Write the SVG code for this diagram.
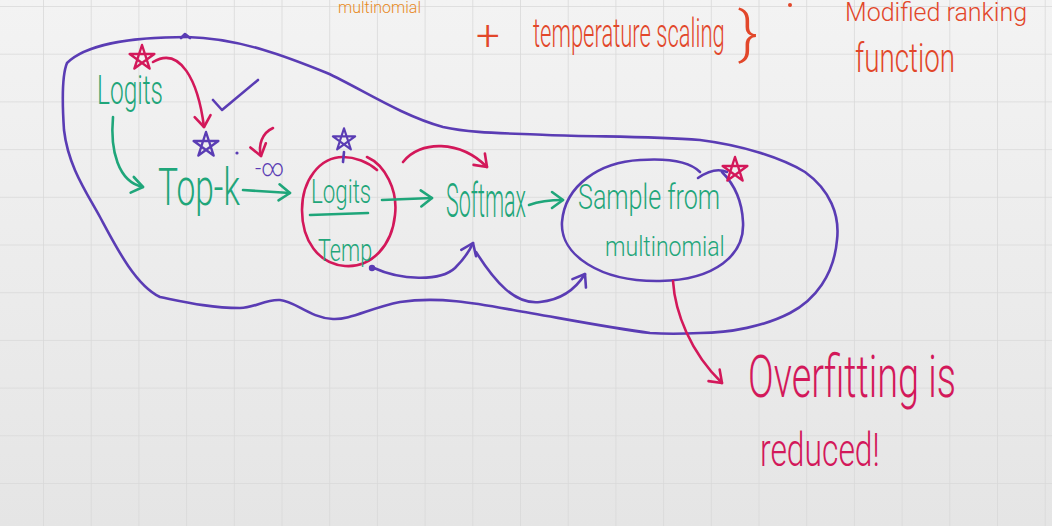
<svg xmlns="http://www.w3.org/2000/svg" width="1052" height="526" viewBox="0 0 1052 526">
<style>
  .g{fill:#1fa67a}
  .p{fill:#5a3cb4}
  .r{fill:#d3185a}
  .o{fill:#e2472a}
  .t{font-family:Roboto,"Liberation Sans","DejaVu Sans",sans-serif;font-weight:300}
  .sg{fill:none;stroke:#1fa67a;stroke-width:2.6;stroke-linecap:round;stroke-linejoin:round}
  .sp{fill:none;stroke:#5a3cb4;stroke-width:2.6;stroke-linecap:round;stroke-linejoin:round}
  .sr{fill:none;stroke:#d3185a;stroke-width:2.6;stroke-linecap:round;stroke-linejoin:round}
</style>
<defs>
  <linearGradient id="bg" x1="0" y1="0" x2="0" y2="1">
    <stop offset="0" stop-color="#f3f3f3"/>
    <stop offset="1" stop-color="#e5e5e5"/>
  </linearGradient>
  <pattern id="grid" patternUnits="userSpaceOnUse" x="43" y="6" width="47.7" height="47.7">
    <path d="M0,0 V47.7 M0,0 H47.7" fill="none" stroke="#d9d9d9" stroke-width="1.6"/>
  </pattern>
  <path id="star" d="M0,-13 L7.64,10.52 L-12.36,-4.02 L12.36,-4.02 L-7.64,10.52 Z" fill="none" stroke="currentColor" stroke-width="2.4" stroke-linejoin="round"/>
  <marker id="ag" markerUnits="userSpaceOnUse" markerWidth="24" markerHeight="24" viewBox="-12 -12 24 24" refX="0" refY="0" orient="auto" overflow="visible">
    <path d="M-11,-8 L0,0 L-11,8" fill="none" stroke="#1fa67a" stroke-width="2.6" stroke-linecap="round" stroke-linejoin="round"/>
  </marker>
  <marker id="ap" markerUnits="userSpaceOnUse" markerWidth="24" markerHeight="24" viewBox="-12 -12 24 24" refX="0" refY="0" orient="auto" overflow="visible">
    <path d="M-11,-8 L0,0 L-11,8" fill="none" stroke="#5a3cb4" stroke-width="2.6" stroke-linecap="round" stroke-linejoin="round"/>
  </marker>
  <marker id="ar" markerUnits="userSpaceOnUse" markerWidth="24" markerHeight="24" viewBox="-12 -12 24 24" refX="0" refY="0" orient="auto" overflow="visible">
    <path d="M-11,-8 L0,0 L-11,8" fill="none" stroke="#d3185a" stroke-width="2.6" stroke-linecap="round" stroke-linejoin="round"/>
  </marker>
</defs>

<rect width="1052" height="526" fill="url(#bg)"/>
<rect width="1052" height="526" fill="url(#grid)"/>

<!-- top notes -->
<g id="top-notes">
  <text class="t" x="338" y="13" font-size="16" fill="#e88a1e">multinomial</text>
  <text class="t o" x="476" y="50" font-size="42">+</text>
  <text class="t o" transform="translate(533 47) scale(0.54 1)" font-size="40" textLength="355" lengthAdjust="spacingAndGlyphs">temperature scaling</text>
  <text class="t o" x="738" y="52" font-size="58" textLength="20" lengthAdjust="spacingAndGlyphs">}</text>
  <circle cx="790" cy="5" r="2" fill="#e2472a"/>
  <text class="t o" x="845" y="21" font-size="25">Modified ranking</text>
  <text class="t o" transform="translate(855 72) scale(0.68 1)" font-size="40" textLength="147" lengthAdjust="spacingAndGlyphs">function</text>
</g>

<!-- outer purple blob -->
<g id="pipeline-boundary">
  <path class="sp" d="M67,63 C85,45 130,37 187,37 C240,38 290,58 327,73 C360,88 400,115 443,127 C470,133 500,133 547,135 C600,137 650,136 700,140 C740,145 780,157 805,172 C830,190 840,215 837,240 C834,275 815,300 790,313 C765,326 730,333 700,333 C680,334 665,334 650,333 C610,328 560,318 513,310 C480,304 440,296 400,302 C370,308 350,320 333,319 C310,318 295,301 280,300 C265,299 255,308 240,308 C210,308 185,302 160,297 C135,285 115,245 100,217 C85,190 68,165 64,130 C62,100 62,75 67,63 Z"/>
  <path class="sp" d="M181,38 L185,34 L190,38"/>
</g>

<g id="node-logits">
  <text class="t g" transform="translate(97 104) scale(0.6 1)" font-size="40" textLength="110" lengthAdjust="spacingAndGlyphs">Logits</text>
  <use href="#star" x="142" y="58" color="#d3185a"/>
</g>

<g id="node-topk">
  <text class="t g" transform="translate(158 205) scale(0.63 1)" font-size="52" textLength="130" lengthAdjust="spacingAndGlyphs">Top-k</text>
  <use href="#star" x="206" y="145" color="#5a3cb4"/>
  <path class="sp" d="M213,100 L222,110 L258,80"/>
  <circle cx="237" cy="153" r="1.6" fill="#5a3cb4"/>
  <text class="t p" x="255" y="176" font-size="24" textLength="29" lengthAdjust="spacingAndGlyphs">-∞</text>
</g>

<g id="node-logits-temp">
  <path class="sr" d="M367,157 C385,165 398,190 395,215 C392,245 372,268 345,266 C318,264 302,240 302,210 C302,180 320,157 343,157 C355,157 368,162 377,170"/>
  <text class="t g" transform="translate(311 203) scale(0.64 1)" font-size="34" textLength="94" lengthAdjust="spacingAndGlyphs">Logits</text>
  <path class="sg" d="M310,215 L368,213"/>
  <text class="t g" transform="translate(318 261) scale(0.66 1)" font-size="32" textLength="82" lengthAdjust="spacingAndGlyphs">Temp</text>
  <use href="#star" x="344" y="140" color="#5a3cb4" transform="translate(344 140) scale(0.9) translate(-344 -140)"/>
  <path class="sp" d="M344,152 L343,162"/>
  <circle cx="372" cy="268" r="3.2" fill="#5a3cb4"/>
</g>

<g id="node-softmax">
  <text class="t g" transform="translate(446 217) scale(0.44 1)" font-size="48" textLength="182" lengthAdjust="spacingAndGlyphs">Softmax</text>
</g>

<g id="node-sample">
  <path class="sp" d="M700,172 C690,162 670,158 640,160 C600,162 565,185 562,222 C560,255 600,282 660,281 C715,280 745,255 743,222 C742,200 735,185 722,172"/>
  <path class="sp" d="M698,178 C708,171 718,168 727,172"/>
  <text class="t g" transform="translate(578 209) scale(0.69 1)" font-size="36" textLength="206" lengthAdjust="spacingAndGlyphs">Sample from</text>
  <text class="t g" transform="translate(605 256) scale(0.82 1)" font-size="28" textLength="146" lengthAdjust="spacingAndGlyphs">multinomial</text>
  <use href="#star" x="735" y="170" color="#d3185a"/>
</g>

<g id="node-overfitting">
  <text class="t r" transform="translate(748 397) scale(0.61 1)" font-size="60" textLength="341" lengthAdjust="spacingAndGlyphs">Overfitting is</text>
  <text class="t r" transform="translate(760 466) scale(0.68 1)" font-size="46" textLength="176" lengthAdjust="spacingAndGlyphs">reduced!</text>
</g>

<g id="connectors">
  <path class="sg" d="M113,117 C110,150 118,182 143,187" marker-end="url(#ag)"/>
  <path class="sg" d="M243,190 L290,193" marker-end="url(#ag)"/>
  <path class="sg" d="M382,200 L432,198" marker-end="url(#ag)"/>
  <path class="sg" d="M529,205 C540,201 550,200 563,200" marker-end="url(#ag)"/>
  <path class="sr" d="M153,62 C180,46 198,80 204,127" marker-end="url(#ar)"/>
  <path class="sr" d="M273,128 C262,133 258,145 261,156" marker-end="url(#ar)"/>
  <path class="sr" d="M403,162 C420,140 460,140 487,167" marker-end="url(#ar)"/>
  <path class="sr" d="M673,281 C675,312 690,352 722,383" marker-end="url(#ar)"/>
  <path class="sp" d="M374,268 C400,280 440,282 455,268 C465,258 470,250 473,243" marker-end="url(#ap)"/>
  <path class="sp" d="M476,252 C495,282 515,305 540,302 C560,300 575,290 585,274" marker-end="url(#ap)"/>
</g>
</svg>
